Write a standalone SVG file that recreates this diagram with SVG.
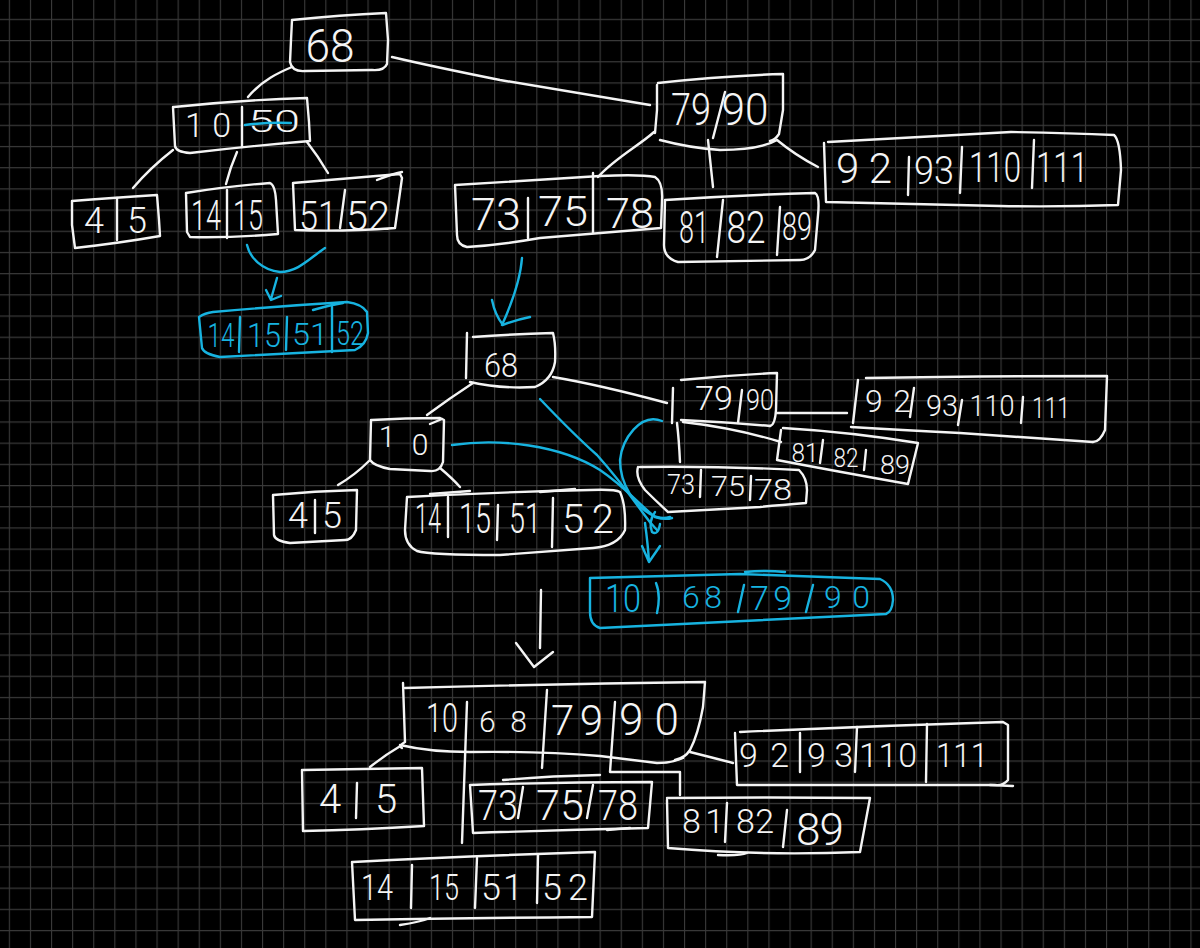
<svg xmlns="http://www.w3.org/2000/svg" width="1200" height="948" viewBox="0 0 1200 948">
  <defs>
    <pattern id="grid" x="8.8" y="18.8" width="21.1" height="21.19" patternUnits="userSpaceOnUse">
      <path d="M0.5,0 V21.19 M0,0.5 H21.1" fill="none" stroke="#3a3a3a" stroke-width="1.2"/>
    </pattern>
    <style>
      .w { fill: none; stroke: #f4f4f4; stroke-width: 2.4; stroke-linecap: round; stroke-linejoin: round; }
      .b { fill: none; stroke: #17b3e0; stroke-width: 2.4; stroke-linecap: round; stroke-linejoin: round; }
      text { font-family: Roboto, "Open Sans", "Liberation Sans", sans-serif; font-weight: 300; text-anchor: middle; }
      .t { fill: #f4f4f4; }
      .tb { fill: #17b3e0; }
    </style>
  </defs>

  <rect width="1200" height="948" fill="#000"/>
  <rect width="1200" height="948" fill="url(#grid)"/>

  <!-- ===== first tree ===== -->
  <g id="connectors-top">
    <path class="w" d="M292,67 C280,72 262,80 248,97"/>
    <path class="w" d="M173,150 Q150,168 133,188"/>
    <path class="w" d="M237,152 Q230,168 226,184"/>
    <path class="w" d="M307,142 Q318,156 328,173"/>
    <path class="w" d="M392,57 C430,66 460,72 500,80 C560,90 610,98 650,105"/>
    <path class="w" d="M654,132 C640,145 615,158 598,177"/>
    <path class="w" d="M708,140 L713,187"/>
    <path class="w" d="M777,140 Q795,155 818,167"/>
  </g>

  <g id="t-68">
    <path class="w" d="M292,20 Q340,15 386,13 L388,40 L387,64 Q384,71 372,70 L305,71 Q292,72 290,62 L291,40 Z"/>
    <text class="t" x="330" y="62" font-size="46" textLength="49" lengthAdjust="spacingAndGlyphs">68</text>
  </g>

  <g id="t-10-50">
    <path class="w" d="M174,107 Q240,100 307,98 L309,122 L310,141 Q250,146 190,153 Q176,152 175,146 L173,107"/>
    <path class="w" d="M242,107 L242,147"/>
    <text class="t" x="208" y="137" font-size="34" textLength="46" lengthAdjust="spacing">10</text>
    <text class="t" x="274" y="132" font-size="31" textLength="52" lengthAdjust="spacingAndGlyphs">50</text>
    <path class="b" d="M245,125 Q268,122 291,123"/>
  </g>

  <g id="t-4-5">
    <path class="w" d="M72,201 Q110,198 157,195 L159,220 L160,236 Q120,243 75,248 L72,225 Z"/>
    <path class="w" d="M117,198 L117,240"/>
    <text class="t" x="94" y="233" font-size="36">4</text>
    <text class="t" x="137" y="233" font-size="36">5</text>
  </g>

  <g id="t-14-15">
    <path class="w" d="M186,193 Q230,186 270,183 Q275,185 276,200 L278,234 Q230,238 190,237 L187,232 L186,193"/>
    <path class="w" d="M227,190 L227,238"/>
    <text class="t" x="206" y="230" font-size="42" textLength="30" lengthAdjust="spacingAndGlyphs">14</text>
    <text class="t" x="248" y="230" font-size="42" textLength="30" lengthAdjust="spacingAndGlyphs">15</text>
  </g>

  <g id="t-51-52">
    <path class="w" d="M293,183 Q350,178 400,174 L402,178 L395,228 Q340,232 295,230 L293,183"/>
    <path class="w" d="M377,180 Q392,174 402,172"/>
    <path class="w" d="M345,190 L340,228"/>
    <text class="t" x="318" y="230" font-size="40" textLength="38" lengthAdjust="spacingAndGlyphs">51</text>
    <text class="t" x="368" y="230" font-size="40" textLength="44" lengthAdjust="spacingAndGlyphs">52</text>
  </g>

  <g id="t-79-90">
    <path class="w" d="M657,85 L657,110 L655,133"/>
    <path class="w" d="M658,83 Q720,76 783,74 L783,110 L779,134 Q775,140 770,141"/>
    <path class="w" d="M660,140 Q690,148 720,150 Q760,150 777,140"/>
    <path class="w" d="M725,92 L713,138"/>
    <text class="t" x="691" y="125" font-size="44" textLength="40" lengthAdjust="spacingAndGlyphs">79</text>
    <text class="t" x="745" y="125" font-size="44" textLength="47" lengthAdjust="spacingAndGlyphs">90</text>
  </g>

  <g id="t-92-111">
    <path class="w" d="M828,142 Q920,137 1011,132 Q1070,133 1114,135 Q1120,140 1121,170 L1118,205 Q1060,207 1000,206 L826,202 L824,143"/>
    <path class="w" d="M909,157 L908,195 M962,147 L960,193 M1034,140 L1032,188"/>
    <text class="t" x="864" y="183" font-size="42" textLength="56" lengthAdjust="spacing">92</text>
    <text class="t" x="934" y="184" font-size="38" textLength="40" lengthAdjust="spacingAndGlyphs">93</text>
    <text class="t" x="995" y="182" font-size="42" textLength="52" lengthAdjust="spacingAndGlyphs">110</text>
    <text class="t" x="1062" y="182" font-size="42" textLength="52" lengthAdjust="spacingAndGlyphs">111</text>
  </g>

  <g id="t-73-78">
    <path class="w" d="M455,185 Q540,180 600,176 Q640,174 655,177 Q663,182 662,200 L661,228 Q600,233 540,238 Q500,245 467,247 Q457,245 457,235 L455,185"/>
    <path class="w" d="M528,198 L528,238 M593,173 L593,233"/>
    <text class="t" x="496" y="230" font-size="44" textLength="50" lengthAdjust="spacingAndGlyphs">73</text>
    <text class="t" x="563" y="226" font-size="42" textLength="50" lengthAdjust="spacingAndGlyphs">75</text>
    <text class="t" x="630" y="228" font-size="42" textLength="48" lengthAdjust="spacingAndGlyphs">78</text>
  </g>

  <g id="t-81-89">
    <path class="w" d="M665,200 Q740,195 815,193 Q820,196 818,215 L815,250 Q810,260 800,260 L678,262 Q664,258 664,245 L665,200"/>
    <path class="w" d="M723,200 L717,257 M780,207 L777,255"/>
    <text class="t" x="694" y="243" font-size="44" textLength="30" lengthAdjust="spacingAndGlyphs">81</text>
    <text class="t" x="746" y="243" font-size="44" textLength="39" lengthAdjust="spacingAndGlyphs">82</text>
    <text class="t" x="797" y="240" font-size="38" textLength="30" lengthAdjust="spacingAndGlyphs">89</text>
  </g>

  <!-- merge of the two leaves -->
  <g id="merge-arrows">
    <path class="b" d="M247,245 C250,258 262,270 280,272 C298,272 310,258 325,248"/>
    <path class="b" d="M277,278 L271,299 M266,290 L271,300 L281,296"/>
    <path class="b" d="M522,258 Q520,285 502,325 M492,300 Q495,315 503,325 Q515,320 530,317"/>
  </g>

  <g id="m-14-52">
    <path class="b" d="M213,312 Q280,306 347,302 Q362,304 367,312 L368,333 Q366,345 355,350 L220,357 Q204,354 202,348 L199,317 Q205,313 213,312"/>
    <path class="b" d="M313,310 Q330,305 343,303"/>
    <path class="b" d="M240,317 L239,352 M287,317 L286,350 M332,307 L332,352"/>
    <text class="tb" x="221" y="347" font-size="34" textLength="27" lengthAdjust="spacingAndGlyphs">14</text>
    <text class="tb" x="264" y="347" font-size="34" textLength="34" lengthAdjust="spacingAndGlyphs">15</text>
    <text class="tb" x="310" y="345" font-size="32" textLength="36" lengthAdjust="spacingAndGlyphs">51</text>
    <text class="tb" x="350" y="345" font-size="34" textLength="28" lengthAdjust="spacingAndGlyphs">52</text>
  </g>

  <!-- ===== second tree ===== -->
  <g id="connectors-mid">
    <path class="w" d="M473,383 Q450,398 427,415"/>
    <path class="w" d="M553,377 Q600,385 667,403"/>
    <path class="w" d="M369,461 Q355,475 338,485"/>
    <path class="w" d="M440,468 Q452,478 460,487"/>
    <path class="w" d="M777,413 L847,413"/>
    <path class="w" d="M683,422 Q735,428 781,442"/>
    <path class="w" d="M677,423 Q679,440 680,462"/>
  </g>

  <g id="s-68">
    <path class="w" d="M467,333 L466,378"/>
    <path class="w" d="M473,337 Q515,334 553,333 Q556,345 555,362 Q552,380 535,387 Q500,389 470,382"/>
    <text class="t" x="501" y="377" font-size="34" textLength="34" lengthAdjust="spacingAndGlyphs">68</text>
  </g>

  <g id="s-10">
    <path class="w" d="M372,420 Q405,418 440,418 L444,420 L443,462 Q440,472 430,471 L390,469 Q374,466 370,460 L371,420"/>
    <path class="w" d="M430,424 L442,419"/>
    <text class="t" font-size="30"><tspan x="387" y="447">1</tspan><tspan x="420" y="455">0</tspan></text>
  </g>

  <g id="s-4-5">
    <path class="w" d="M273,495 Q315,491 357,490 L356,530 Q352,540 345,540 L290,543 Q275,541 274,535 L273,495"/>
    <path class="w" d="M315,500 L315,533"/>
    <text class="t" x="298" y="528" font-size="36">4</text>
    <text class="t" x="332" y="528" font-size="36">5</text>
  </g>

  <g id="s-14-52">
    <path class="w" d="M407,497 Q500,492 590,490 Q615,489 620,492 Q626,505 625,530 Q618,546 593,548 L500,555 Q430,555 417,551 Q405,545 405,530 L407,497"/>
    <path class="w" d="M430,494 L470,491 M540,492 L575,489"/>
    <path class="w" d="M448,497 L448,537 M498,505 L497,540 M553,498 L552,547"/>
    <text class="t" x="428" y="533" font-size="42" textLength="26" lengthAdjust="spacingAndGlyphs">14</text>
    <text class="t" x="475" y="533" font-size="42" textLength="32" lengthAdjust="spacingAndGlyphs">15</text>
    <text class="t" x="525" y="533" font-size="42" textLength="32" lengthAdjust="spacingAndGlyphs">51</text>
    <text class="t" x="588" y="533" font-size="40" textLength="52" lengthAdjust="spacing">52</text>
  </g>

  <g id="s-79-90">
    <path class="w" d="M673,388 L672,423"/>
    <path class="w" d="M681,380 Q730,375 777,373 L776,410 Q775,425 770,426"/>
    <path class="w" d="M681,420 Q725,422 770,426"/>
    <path class="w" d="M742,390 L738,423"/>
    <text class="t" x="714" y="410" font-size="34" textLength="38" lengthAdjust="spacingAndGlyphs">79</text>
    <text class="t" x="760" y="410" font-size="30" textLength="28" lengthAdjust="spacingAndGlyphs">90</text>
  </g>

  <g id="s-92-111">
    <path class="w" d="M858,380 L853,423"/>
    <path class="w" d="M866,378 Q980,376 1107,376 L1105,430 Q1100,442 1093,442"/>
    <path class="w" d="M851,427 Q900,430 960,433 Q1030,438 1093,442"/>
    <path class="w" d="M914,388 L910,417 M962,400 L958,425 M1023,397 L1021,423"/>
    <text class="t" x="888" y="412" font-size="32" textLength="46" lengthAdjust="spacing">92</text>
    <text class="t" x="942" y="416" font-size="30" textLength="32" lengthAdjust="spacingAndGlyphs">93</text>
    <text class="t" x="992" y="416" font-size="30" textLength="45" lengthAdjust="spacingAndGlyphs">110</text>
    <text class="t" x="1051" y="418" font-size="30" textLength="38" lengthAdjust="spacingAndGlyphs">111</text>
  </g>

  <g id="s-81-89">
    <path class="w" d="M783,428 Q850,432 918,443 L908,484 Q840,472 777,460 L781,430"/>
    <path class="w" d="M823,440 L820,463 M866,450 L864,470"/>
    <text class="t" x="805" y="462" font-size="26" textLength="27" lengthAdjust="spacingAndGlyphs">81</text>
    <text class="t" x="846" y="467" font-size="26" textLength="25" lengthAdjust="spacingAndGlyphs">82</text>
    <text class="t" x="895" y="474" font-size="26" textLength="30" lengthAdjust="spacingAndGlyphs">89</text>
  </g>

  <g id="s-73-78">
    <path class="w" d="M640,467 Q720,466 799,470 Q807,478 807,490 L806,503 Q780,505 760,507 L668,512 Q655,500 645,490 Q635,477 638,467"/>
    <path class="w" d="M701,470 L700,497 M751,476 L750,500"/>
    <text class="t" x="681" y="494" font-size="28" textLength="28" lengthAdjust="spacingAndGlyphs">73</text>
    <text class="t" x="728" y="496" font-size="28" textLength="34" lengthAdjust="spacingAndGlyphs">75</text>
    <text class="t" x="773" y="500" font-size="30" textLength="38" lengthAdjust="spacingAndGlyphs">78</text>
  </g>

  <!-- keys pulled up into the root -->
  <g id="gather-arrows">
    <path class="b" d="M540,399 C560,420 580,440 597,455 C615,475 630,495 643,513 Q650,523 657,530"/>
    <path class="b" d="M452,445 C500,438 560,445 600,470 C625,487 640,505 655,517 Q665,520 672,518"/>
    <path class="b" d="M662,421 C640,412 622,440 620,460 C620,485 635,505 650,514 Q660,520 670,517"/>
    <path class="b" d="M655,512 Q648,522 652,532 Q658,536 660,524"/>
    <path class="b" d="M645,523 Q648,545 649,562 M642,546 L649,562 L660,546"/>
  </g>

  <g id="m-root">
    <path class="b" d="M590,578 Q700,575 740,574 Q800,576 880,579 Q893,585 893,600 Q892,612 886,614 L600,628 Q590,625 590,612 L590,578"/>
    <path class="b" d="M745,572 Q765,570 785,572"/>
    <path class="b" d="M656,583 Q661,595 657,613 M744,585 L738,612 M813,585 L806,612"/>
    <text class="tb" x="623" y="612" font-size="38" textLength="36" lengthAdjust="spacingAndGlyphs">10</text>
    <text class="tb" x="702" y="608" font-size="32" textLength="40" lengthAdjust="spacing">68</text>
    <text class="tb" x="771" y="610" font-size="34" textLength="42" lengthAdjust="spacing">79</text>
    <text class="tb" x="847" y="608" font-size="32" textLength="46" lengthAdjust="spacing">90</text>
  </g>

  <g id="step-arrow">
    <path class="w" d="M541,590 L540,648 M516,643 L534,667 L553,652"/>
  </g>

  <!-- ===== third tree ===== -->
  <g id="connectors-bottom">
    <path class="w" d="M402,745 Q385,755 370,767"/>
    <path class="w" d="M690,752 Q710,757 733,763"/>
    <path class="w" d="M467,702 L462,843"/>
    <path class="w" d="M547,690 L542,768"/>
    <path class="w" d="M615,702 L610,772 L680,772 L680,795"/>
  </g>

  <g id="u-root">
    <path class="w" d="M403,683 L405,742 Q398,746 402,748"/>
    <path class="w" d="M405,688 Q550,684 705,682 L703,707 Q698,735 690,750 Q685,758 675,760"/>
    <path class="w" d="M400,745 Q430,752 470,752 Q540,751 600,756 L657,763 Q672,763 683,758"/>
    <text class="t" x="442" y="732" font-size="40" textLength="32" lengthAdjust="spacingAndGlyphs">10</text>
    <text class="t" x="503" y="732" font-size="30" textLength="48" lengthAdjust="spacing">68</text>
    <text class="t" x="577" y="735" font-size="42" textLength="52" lengthAdjust="spacing">79</text>
    <text class="t" x="649" y="735" font-size="44" textLength="60" lengthAdjust="spacing">90</text>
  </g>

  <g id="u-4-5">
    <path class="w" d="M303,770 Q360,769 422,768 L424,826 Q360,830 303,831 L302,770"/>
    <path class="w" d="M357,783 L356,818"/>
    <text class="t" x="330" y="813" font-size="40">4</text>
    <text class="t" x="386" y="813" font-size="40">5</text>
  </g>

  <g id="u-73-78">
    <path class="w" d="M470,785 Q560,782 652,782 L648,828 Q560,830 473,833 L470,785"/>
    <path class="w" d="M503,780 Q550,776 600,775 M607,830 L630,828"/>
    <path class="w" d="M523,787 L518,818 M593,785 L587,818"/>
    <text class="t" x="498" y="820" font-size="42" textLength="40" lengthAdjust="spacingAndGlyphs">73</text>
    <text class="t" x="560" y="820" font-size="42" textLength="48" lengthAdjust="spacingAndGlyphs">75</text>
    <text class="t" x="618" y="820" font-size="42" textLength="40" lengthAdjust="spacingAndGlyphs">78</text>
  </g>

  <g id="u-14-52">
    <path class="w" d="M353,862 Q470,856 595,852 L592,917 Q470,918 355,920 L352,862"/>
    <path class="w" d="M400,925 Q420,922 430,918"/>
    <path class="w" d="M412,865 L411,908 M477,858 L475,908 M538,855 L537,903"/>
    <text class="t" x="377" y="900" font-size="36" textLength="32" lengthAdjust="spacingAndGlyphs">14</text>
    <text class="t" x="444" y="900" font-size="36" textLength="30" lengthAdjust="spacingAndGlyphs">15</text>
    <text class="t" x="502" y="900" font-size="36" textLength="42" lengthAdjust="spacing">51</text>
    <text class="t" x="565" y="900" font-size="36" textLength="46" lengthAdjust="spacing">52</text>
  </g>

  <g id="u-92-111">
    <path class="w" d="M740,732 Q870,726 1003,722 L1008,725 L1008,780 Q1003,786 995,785 L737,785 L735,733"/>
    <path class="w" d="M990,785 L1013,786"/>
    <path class="w" d="M800,733 L800,772 M857,727 L855,772 M927,724 L926,782"/>
    <text class="t" x="764" y="767" font-size="34" textLength="50" lengthAdjust="spacing">92</text>
    <text class="t" x="830" y="767" font-size="34" textLength="46" lengthAdjust="spacing">93</text>
    <text class="t" x="888" y="767" font-size="34" textLength="58" lengthAdjust="spacing">110</text>
    <text class="t" x="962" y="767" font-size="34" textLength="52" lengthAdjust="spacingAndGlyphs">111</text>
  </g>

  <g id="u-81-89">
    <path class="w" d="M667,798 Q770,797 870,798 L860,852 Q760,856 668,848 L667,800"/>
    <path class="w" d="M718,855 Q740,856 747,853"/>
    <path class="w" d="M727,803 L725,842 M787,810 L783,847"/>
    <text class="t" x="703" y="833" font-size="34" textLength="42" lengthAdjust="spacing">81</text>
    <text class="t" x="755" y="833" font-size="34" textLength="38" lengthAdjust="spacing">82</text>
    <text class="t" x="820" y="845" font-size="44" textLength="48" lengthAdjust="spacing">89</text>
  </g>
</svg>
